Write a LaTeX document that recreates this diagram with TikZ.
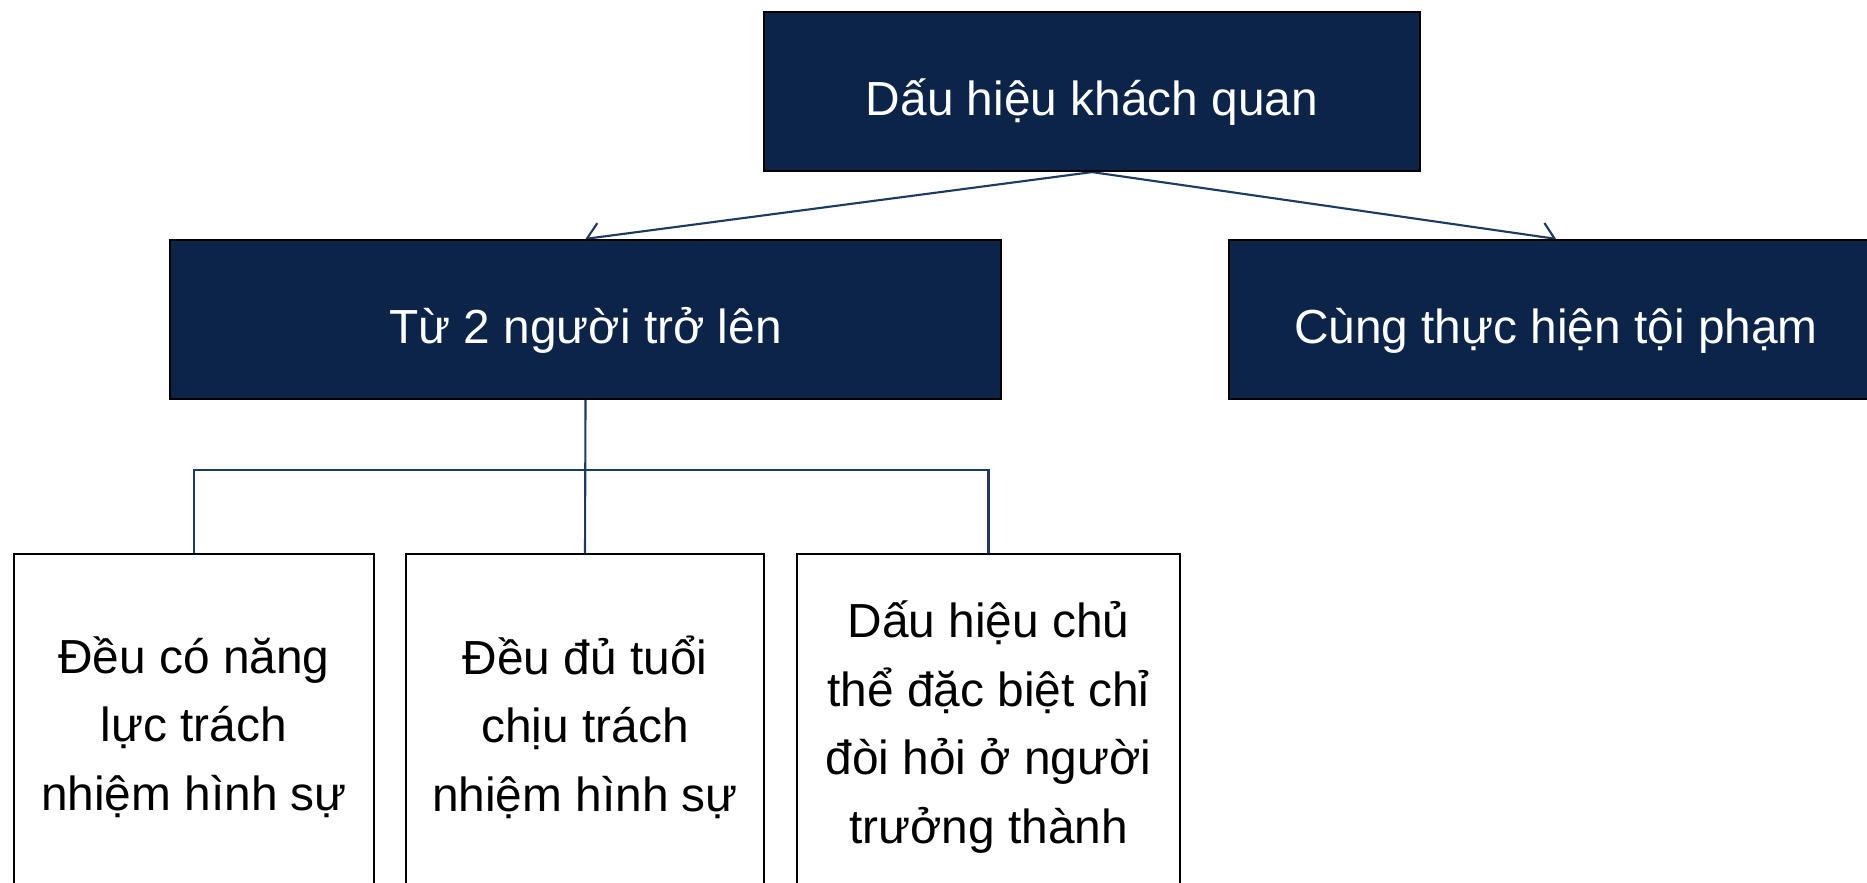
\documentclass[tikz,border=0pt]{standalone}
\usepackage{fontspec}
\setmainfont{Liberation Sans}
\usetikzlibrary{arrows.meta,positioning,calc,backgrounds}
\definecolor{navy}{HTML}{0C2447}
\definecolor{linkcol}{HTML}{1F3A60}

\begin{document}
\begin{tikzpicture}[x=0.01cm,y=-0.01cm,
    headbox/.style={draw=black,line width=0.6pt,fill=navy,text=white,
      font=\fontsize{13.6pt}{17pt}\selectfont,inner sep=0pt,
      text height=0.6cm,text depth=0.13cm},
    leafbox/.style={draw=black,line width=0.6pt,fill=white,anchor=north,
      minimum height=5cm,inner sep=0pt},
    leaftext/.style={align=center,font=\fontsize{13.6pt}{19.5pt}\selectfont},
    link/.style={draw=linkcol,line width=0.6pt}]
    \clip (0,0) rectangle (1867,883);

    \node[headbox,minimum width=6.56cm,minimum height=1.59cm] (DH) at (1092,91.5) {Dấu hiệu khách quan};
    \node[headbox,minimum width=8.31cm,minimum height=1.59cm] (TN) at (585.5,319.5) {Từ 2 người trở lên};
    \node[headbox,minimum width=6.54cm,minimum height=1.59cm] (CT) at (1556,319.5) {Cùng thực hiện tội phạm};

    \node[leafbox,minimum width=3.60cm] (L1) at (194,553) {};
    \node[leafbox,minimum width=3.58cm] (L2) at (585,553) {};
    \node[leafbox,minimum width=3.83cm] (L3) at (988.5,553) {};
    \node[leaftext] (T1) at (194,727) {Đều có năng\\lực trách\\nhiệm hình sự};
    \node[leaftext] (T2) at (585,727) {Đều đủ tuổi\\chịu trách\\nhiệm hình sự};
    \node[leaftext] (T3) at (988.5,727) {Dấu hiệu chủ\\thể đặc biệt chỉ\\đòi hỏi ở người\\trưởng thành};

    \begin{scope}[on background layer]
      \fill[white] (0,0) rectangle (1867,883);
      \draw[link,-{Straight Barb[length=3.5pt,width=8pt]}] (DH.south) -- (TN.north);
      \draw[link,-{Straight Barb[length=3.5pt,width=8pt]}] (DH.south) -- (CT.north);
    \end{scope}

    \coordinate (J) at (585,470);
    \draw[link] (TN.south) -- (L2.north);
    \draw[link] (L1.north) |- (J) -| (L3.north);
  \end{tikzpicture}
\end{document}
